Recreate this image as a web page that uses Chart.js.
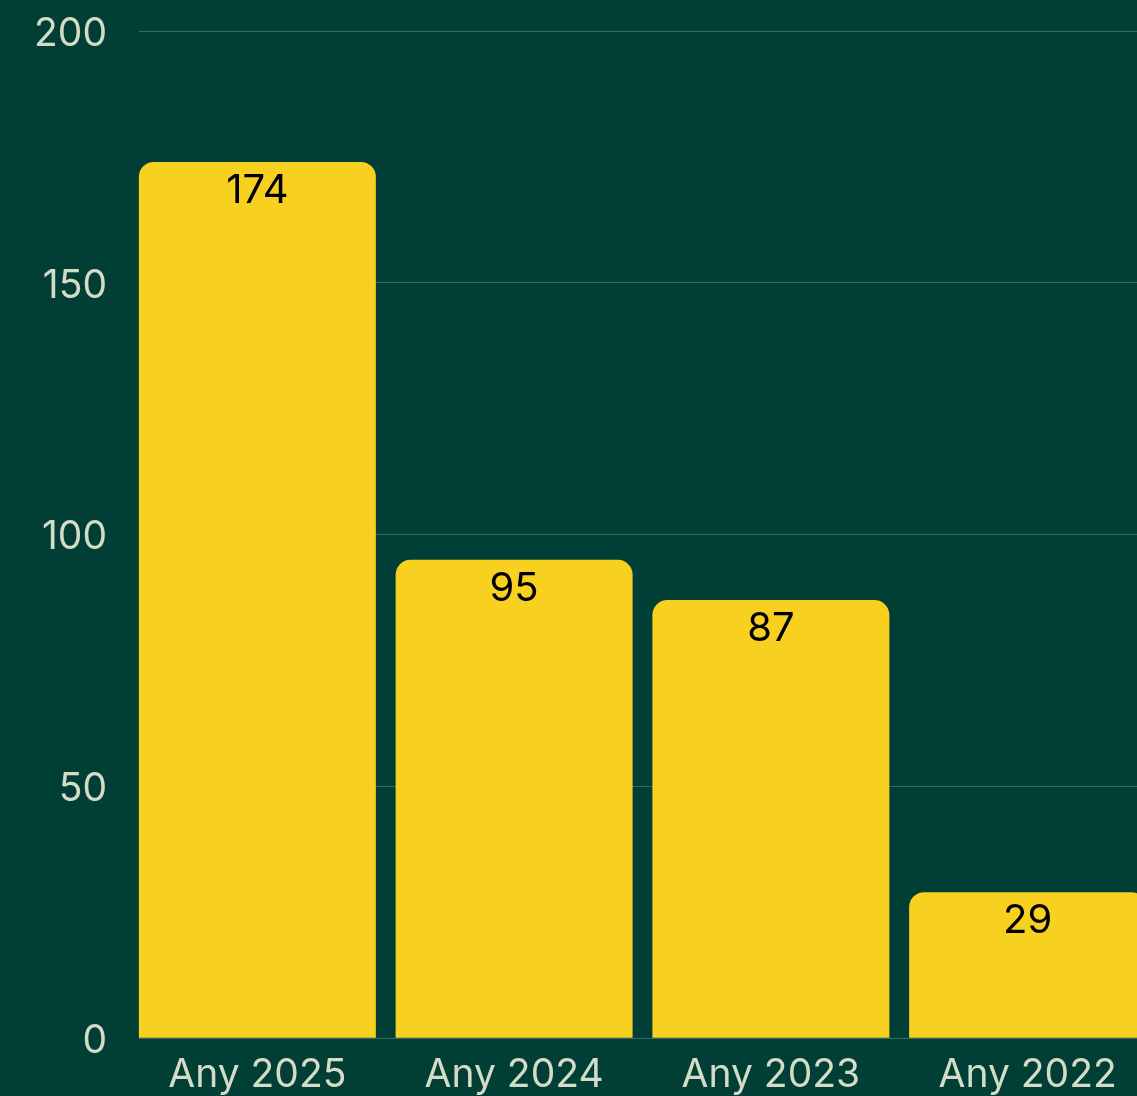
<!DOCTYPE html>
<html>
<head>
<meta charset="utf-8">
<script src="https://cdn.jsdelivr.net/npm/chart.js@4"></script>
<style>
	html, body { margin:0; padding:0; background:#013f36; overflow:hidden; }
	#wrap { position:relative; width:1156px; height:1096px; }
</style>
</head>
<body>
<div id="wrap"><canvas id="myChart"></canvas></div>
<script>
var categories = ['Any 2025', 'Any 2024', 'Any 2023', 'Any 2022'];
var counts = [174, 95, 87, 29];
var yTicks = [0, 50, 100, 150, 200];

// draws the value inside the top of each bar
var valueLabels = {
	id:'valueLabels',
	beforeDatasetsDraw:function(chart){
		// gridlines start where the first bar starts
		var a = chart.chartArea;
		chart.ctx.save();
		chart.ctx.fillStyle = '#013f36';
		chart.ctx.fillRect(a.left - 1, a.top - 2, 11, a.bottom - a.top + 4);
		chart.ctx.restore();
	},
	afterDatasetsDraw:function(chart){
		var ctx = chart.ctx;
		var meta = chart.getDatasetMeta(0);
		ctx.save();
		ctx.fillStyle = '#000000';
		ctx.font = '40px Inter';
		ctx.textAlign = 'center';
		ctx.textBaseline = 'middle';
		meta.data.forEach(function(bar, i){
			ctx.fillText(counts[i], bar.x, bar.y + 29);
		});
		ctx.restore();
	}
};

var ctx = document.getElementById('myChart');

var barGraph = new Chart(ctx, {
	type:'bar',
	data:{
		labels:categories,
		datasets:[
			{
				data:counts,
				backgroundColor:'#f7d020',
				borderRadius:{topLeft:15, topRight:15},
				borderSkipped:'start',
				barPercentage:0.923,
				categoryPercentage:1
			}
		]
	},
	options:{
		responsive:true,
		maintainAspectRatio:false,
		animation:false,
		layout:{padding:{left:12, top:0, right:0, bottom:-9}},
		plugins:{legend:{display:false}, tooltip:{enabled:false}},
		scales:{
			x:{
				grid:{display:false},
				border:{display:false},
				ticks:{color:'#d3dcc6', font:{family:'Inter', size:39}, padding:6}
			},
			y:{
				min:yTicks[0],
				max:yTicks[yTicks.length-1],
				afterBuildTicks:function(axis){
					axis.ticks = yTicks.map(function(v){ return {value:v}; });
				},
				afterFit:function(axis){
					axis.paddingTop = 31;
					axis.paddingBottom = 0;
				},
				grid:{color:'rgba(255,255,255,0.22)', drawTicks:false},
				border:{display:false},
				ticks:{color:'#d3dcc6', font:{family:'Inter', size:39}, padding:22, labelOffset:3}
			}
		}
	},
	plugins:[valueLabels]
});
</script>
</body>
</html>
